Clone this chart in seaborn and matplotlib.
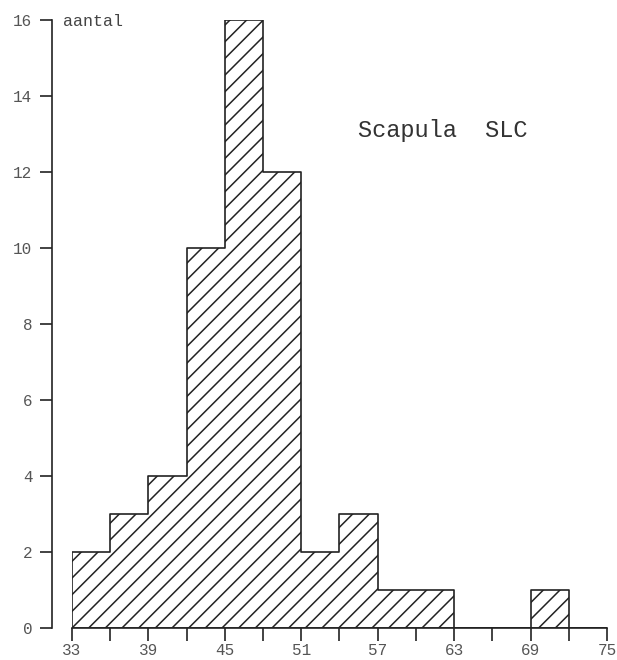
import numpy as np
import pandas as pd
import matplotlib
matplotlib.use("Agg")
import matplotlib.pyplot as plt
import seaborn as sns

bin_edges = [33, 36, 39, 42, 45, 48, 51, 54, 57, 60, 63, 66, 69, 72, 75]
counts = [2, 3, 4, 10, 16, 12, 2, 3, 1, 1, 0, 0, 1, 0]
x_major = [33, 39, 45, 51, 57, 63, 69, 75]
x_minor = [36, 42, 48, 54, 60, 66, 72]
y_ticks = [0, 2, 4, 6, 8, 10, 12, 14, 16]

sns.set_style("white")
plt.rcParams['font.family'] = ['Liberation Mono', 'DejaVu Sans Mono']
plt.rcParams['hatch.linewidth'] = 1.1
plt.rcParams['hatch.color'] = '#111111'

centers = [(a + b) / 2 for a, b in zip(bin_edges[:-1], bin_edges[1:])]
df = pd.DataFrame({"x": centers, "w": counts})

fig = plt.figure(figsize=(6.17, 6.6), dpi=100)
ax = fig.add_axes([72 / 617, 32 / 660, 535 / 617, 608 / 660])

sns.histplot(data=df, x="x", weights="w", bins=bin_edges, ax=ax,
             element="step", fill=True,
             color="white", edgecolor="#222222", linewidth=1.2, alpha=1)
for c in ax.collections:
    c.set_hatch("//")
    c.set_facecolor("white")
    c.set_edgecolor("#222222")
    c.set_linewidth(1.2)

ax.set_xlim(33, 75)
ax.set_ylim(0, 16)
ax.set_xticks(x_major)
ax.set_xticks(x_minor, minor=True)
ax.set_yticks(y_ticks)
ax.set_xlabel("")
ax.set_ylabel("")

for s in ["top", "right"]:
    ax.spines[s].set_visible(False)
ax.spines["left"].set_position(("outward", 14.4))
for s in ["left", "bottom"]:
    ax.spines[s].set_color("#222222")
    ax.spines[s].set_linewidth(1.2)
    ax.spines[s].set_zorder(5)

ax.tick_params(axis="x", which="both", direction="out", length=9, width=1.2,
               color="#222222", labelsize=11.5, labelcolor="#555555", pad=1.5, bottom=True)
ax.tick_params(axis="y", which="both", direction="out", length=9, width=1.2,
               color="#222222", labelsize=11.5, labelcolor="#555555", pad=5, left=True)

fig.text(63 / 617, 1 - 22 / 660, "aantal", fontsize=12,
         color="#444444", va="center", ha="left")
fig.text(358 / 617, 1 - 130 / 660, "Scapula  SLC", fontsize=17,
         color="#333333", va="center", ha="left")

fig.savefig("out.png", dpi=100, facecolor="white")
